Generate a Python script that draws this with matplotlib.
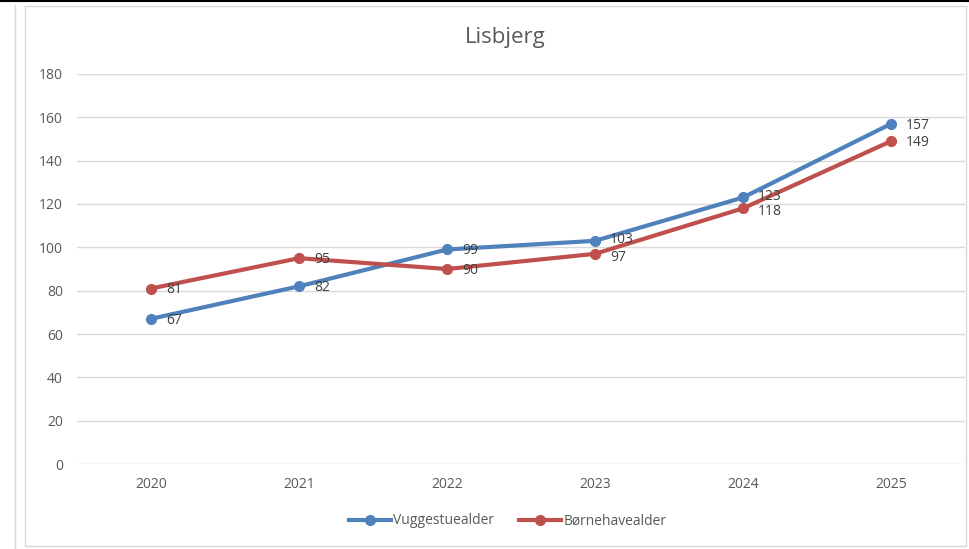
import matplotlib.pyplot as plt
import numpy as np
from matplotlib.lines import Line2D
from matplotlib.patches import Rectangle

plt.rcParams['font.family'] = ['Open Sans', 'DejaVu Sans']

years = ['2020', '2021', '2022', '2023', '2024', '2025']
vuggestue = [67, 82, 99, 103, 123, 157]
boernehave = [81, 95, 90, 97, 118, 149]

blue = '#4F81BD'
red = '#C0504D'
txt = '#595959'

fig = plt.figure(figsize=(9.7, 5.49), dpi=100)

# outer frames
fig.add_artist(Line2D([0, 1], [0.999, 0.999], color='black', lw=1.5, transform=fig.transFigure))
fig.add_artist(Line2D([15 / 970, 15 / 970], [0, 1 - 5 / 549], color='#D9D9D9', lw=1, transform=fig.transFigure))
fig.add_artist(Rectangle((25 / 970, 3 / 549), 941 / 970, 540 / 549, fill=False,
                         edgecolor='#D9D9D9', lw=1, transform=fig.transFigure))

ax = fig.add_axes([77 / 970, 1 - 464 / 549, 888 / 970, 390 / 549])
x = np.arange(len(years))

ax.plot(x, vuggestue, '-o', color=blue, lw=3, ms=7, label='Vuggestuealder', zorder=3)
ax.plot(x, boernehave, '-o', color=red, lw=3, ms=7, label='Børnehavealder', zorder=3)

# labels right of points; nudge where the two series sit close together
for xi, v, b in zip(x, vuggestue, boernehave):
    dv, db = -1, -1
    if 0 < v - b < 8:
        dv, db = 1, -2.5
    ax.annotate(str(v), (xi, v), xytext=(11, dv), textcoords='offset points',
                va='center', ha='left', fontsize=10, color='#404040', zorder=4)
    ax.annotate(str(b), (xi, b), xytext=(11, db), textcoords='offset points',
                va='center', ha='left', fontsize=10, color='#404040', zorder=4)

ax.set_xlim(-0.5, 5.5)
ax.set_ylim(0, 180)
ax.set_yticks(np.arange(0, 181, 20))
ax.set_xticks(x)
ax.set_xticklabels(years)
ax.grid(axis='y', color='#D9D9D9', lw=1)
ax.set_axisbelow(True)
for s in ax.spines.values():
    s.set_visible(False)
ax.tick_params(length=0, labelsize=10, labelcolor=txt, pad=10)
ax.tick_params(axis='x', pad=9)

fig.text(505 / 970, 1 - 38 / 549, 'Lisbjerg', ha='center', va='center', fontsize=16, color=txt)

fig.legend(loc='center', bbox_to_anchor=(508 / 970, 1 - 521 / 549), ncol=2, frameon=False,
           fontsize=10, labelcolor=txt, handlelength=3, handletextpad=0.2, columnspacing=1.8)

fig.savefig('out.png', dpi=100)
